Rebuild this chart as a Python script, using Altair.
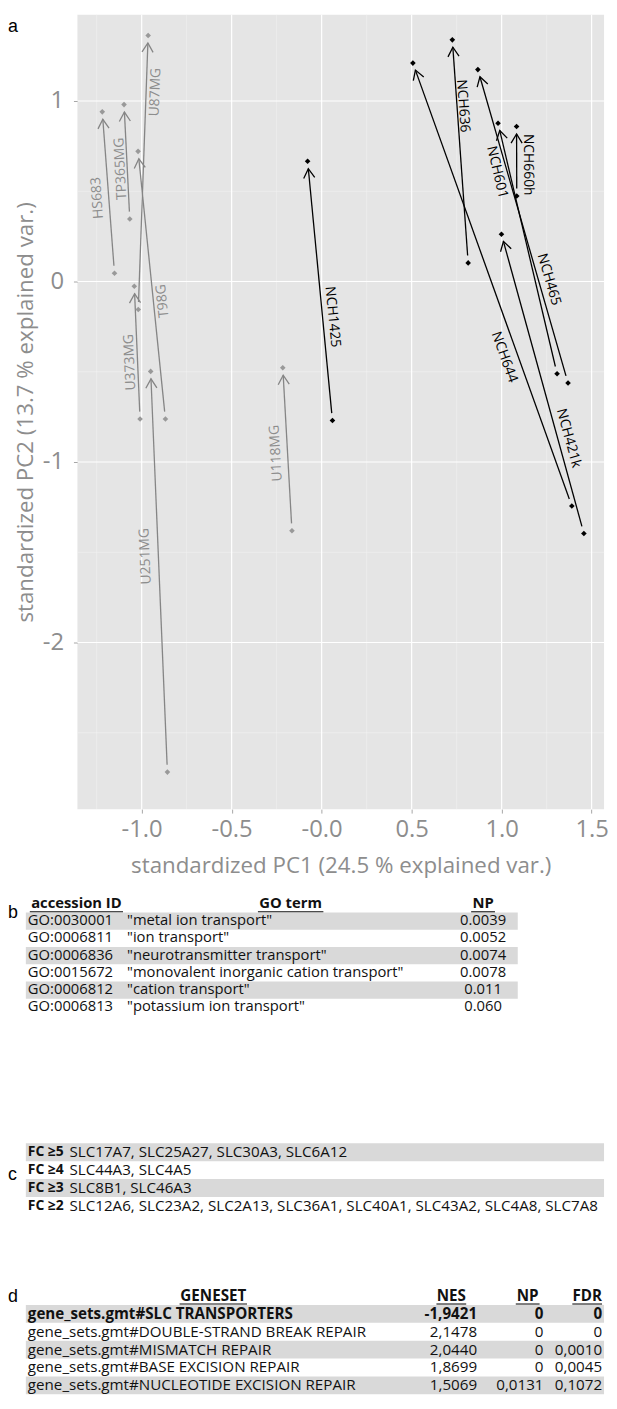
import math
import altair as alt
import pandas as pd

# ---------------- panel a : PCA biplot arrows ----------------
names = ["HS683", "TP365MG", "U87MG", "U373MG", "T98G", "U251MG", "U118MG",
         "NCH1425", "NCH636", "NCH644", "NCH421k", "NCH601", "NCH465", "NCH660h"]
group = ["gray"] * 7 + ["black"] * 7
x_start = [-1.151, -1.066, -1.019, -1.009, -0.868, -0.857, -0.165,
           0.060, 0.814, 1.390, 1.457, 1.308, 1.369, 1.084]
y_start = [0.046, 0.346, -0.155, -0.762, -0.762, -2.718, -1.381,
           -0.770, 0.103, -1.244, -1.396, -0.511, -0.562, 0.474]
x_end = [-1.219, -1.098, -0.964, -1.041, -1.020, -0.950, -0.216,
         -0.078, 0.726, 0.507, 0.999, 0.980, 0.868, 1.083]
y_end = [0.940, 0.980, 1.363, -0.026, 0.721, -0.498, -0.478,
         0.666, 1.339, 1.210, 0.262, 0.877, 1.174, 0.859]
lab_x = [-1.245, -1.116, -0.923, -1.064, -0.883, -0.978, -0.253,
         0.060, 0.785, 1.014, 1.372, 0.974, 1.262, 1.147]
lab_y = [0.463, 0.625, 1.049, -0.447, -0.108, -1.522, -0.951,
         -0.196, 0.973, -0.419, -0.868, 0.606, 0.011, 0.647]

x_major = [-1.0, -0.5, 0.0, 0.5, 1.0, 1.5]
x_minor = [-1.25, -0.75, -0.25, 0.25, 0.75, 1.25]
y_major = [-2, -1, 0, 1]
y_minor = [-2.5, -1.5, -0.5, 0.5]

# ---------------- panel b : GO terms ----------------
b_head = ["accession ID", "GO term", "NP"]
b_ids = ["GO:0030001", "GO:0006811", "GO:0006836", "GO:0015672", "GO:0006812", "GO:0006813"]
b_terms = ['"metal ion transport"', '"ion transport"', '"neurotransmitter transport"',
           '"monovalent inorganic cation transport"', '"cation transport"',
           '"potassium ion transport"']
b_np = ["0.0039", "0.0052", "0.0074", "0.0078", "0.011", "0.060"]

# ---------------- panel c : fold changes ----------------
c_tiers = ["FC \u22655", "FC \u22654", "FC \u22653", "FC \u22652"]
c_genes = ["SLC17A7, SLC25A27, SLC30A3, SLC6A12",
           "SLC44A3, SLC4A5",
           "SLC8B1, SLC46A3",
           "SLC12A6, SLC23A2, SLC2A13, SLC36A1, SLC40A1, SLC43A2, SLC4A8, SLC7A8"]

# ---------------- panel d : GSEA ----------------
d_head = ["GENESET", "NES", "NP", "FDR"]
d_sets = ["gene_sets.gmt#SLC TRANSPORTERS", "gene_sets.gmt#DOUBLE-STRAND BREAK REPAIR",
          "gene_sets.gmt#MISMATCH REPAIR", "gene_sets.gmt#BASE EXCISION REPAIR",
          "gene_sets.gmt#NUCLEOTIDE EXCISION REPAIR"]
d_nes = ["-1,9421", "2,1478", "2,0440", "1,8699", "1,5069"]
d_np = ["0", "0", "0", "0", "0,0131"]
d_fdr = ["0", "0", "0,0010", "0,0045", "0,1072"]

# ---------------- layout ----------------
W, H = 531, 801
XMIN, XMAX = -1.357, 1.569
YMIN, YMAX = -2.923, 1.478
KX = W / (XMAX - XMIN)
KY = H / (YMAX - YMIN)
GAP = 7.5
FONT = "Open Sans"
GRAYTXT = "#8d8d8d"

recs = []
for n, g, xs, ys, xe, ye, lx, ly in zip(names, group, x_start, y_start, x_end, y_end, lab_x, lab_y):
    dxp = (xe - xs) * KX
    dyp = -(ye - ys) * KY
    L = math.hypot(dxp, dyp)
    ux, uy = dxp / L, dyp / L
    th = math.degrees(math.atan2(dyp, dxp))
    recs.append(dict(name=n, grp=g,
                     x1=xs + GAP * ux / KX, y1=ys - GAP * uy / KY,
                     x2=xe - GAP * ux / KX, y2=ye + GAP * uy / KY,
                     head=(th + 90) % 360, lx=lx, ly=ly,
                     lang=(th % 360) if g == "gray" else ((th + 180) % 360)))
arr = pd.DataFrame(recs)
pts = pd.DataFrame({"x": x_start + x_end, "y": y_start + y_end, "grp": group + group})


def XS():
    return alt.Scale(domain=[XMIN, XMAX], nice=False, zero=False)


def YS():
    return alt.Scale(domain=[YMIN, YMAX], nice=False, zero=False)


def cscale(gray, black):
    return alt.Scale(domain=["gray", "black"], range=[gray, black])


one = pd.DataFrame({"k": [0]})

layers = []
# grid
layers.append(alt.Chart(pd.DataFrame({"v": x_minor})).mark_rule(color="#f1f1f1", strokeWidth=0.6)
              .encode(x=alt.X("v:Q", scale=XS(), axis=None)))
layers.append(alt.Chart(pd.DataFrame({"v": y_minor})).mark_rule(color="#f1f1f1", strokeWidth=0.6)
              .encode(y=alt.Y("v:Q", scale=YS(), axis=None)))
layers.append(alt.Chart(pd.DataFrame({"v": x_major})).mark_rule(color="#ffffff", strokeWidth=1.2)
              .encode(x=alt.X("v:Q", scale=XS(), axis=None)))
layers.append(alt.Chart(pd.DataFrame({"v": y_major})).mark_rule(color="#ffffff", strokeWidth=1.2)
              .encode(y=alt.Y("v:Q", scale=YS(), axis=None)))

# arrows
layers.append(alt.Chart(arr).mark_rule(strokeWidth=1.3).encode(
    x=alt.X("x1:Q", scale=XS(), axis=None), y=alt.Y("y1:Q", scale=YS(), axis=None),
    x2="x2:Q", y2="y2:Q",
    color=alt.Color("grp:N", scale=cscale("#858585", "#000000"), legend=None)))
layers.append(alt.Chart(arr).mark_point(shape="M-0.6,1L0,0L0.6,1", filled=False, size=346,
                                        strokeWidth=1.3, opacity=1).encode(
    x=alt.X("x2:Q", scale=XS(), axis=None), y=alt.Y("y2:Q", scale=YS(), axis=None),
    angle=alt.Angle("head:Q", scale=None),
    color=alt.Color("grp:N", scale=cscale("#858585", "#000000"), legend=None)))

# points (carry the axes)
xaxis = alt.Axis(values=x_major, grid=False, domain=False, tickColor="#a6a6a6", tickSize=4,
                 labelExpr="datum.value == 0 ? '-0.0' : (datum.value < 0 ? '-' + format(-datum.value, '.1f') : format(datum.value, '.1f'))",
                 labelFont=FONT, labelFontSize=24, labelColor=GRAYTXT, labelPadding=5,
                 title="standardized PC1 (24.5 % explained var.)", titleFont=FONT,
                 titleFontSize=22.5, titleFontWeight="normal", titleColor=GRAYTXT, titlePadding=13)
yaxis = alt.Axis(values=y_major, grid=False, domain=False, tickColor="#a6a6a6", tickSize=4,
                 labelExpr="datum.value < 0 ? '-' + format(-datum.value, 'd') : format(datum.value, 'd')",
                 labelFont=FONT, labelFontSize=24, labelColor=GRAYTXT, labelPadding=10,
                 title="standardized PC2 (13.7 % explained var.)", titleFont=FONT,
                 titleFontSize=22.5, titleFontWeight="normal", titleColor=GRAYTXT, titlePadding=5)
layers.append(alt.Chart(pts).mark_point(shape="diamond", filled=True, size=32, opacity=1).encode(
    x=alt.X("x:Q", scale=XS(), axis=xaxis), y=alt.Y("y:Q", scale=YS(), axis=yaxis),
    color=alt.Color("grp:N", scale=cscale("#999999", "#000000"), legend=None)))

# arrow labels
layers.append(alt.Chart(arr).mark_text(font=FONT, fontSize=14, align="center", baseline="middle").encode(
    x=alt.X("lx:Q", scale=XS(), axis=None), y=alt.Y("ly:Q", scale=YS(), axis=None),
    text="name:N", angle=alt.Angle("lang:Q", scale=None),
    color=alt.Color("grp:N", scale=cscale(GRAYTXT, "#000000"), legend=None)))

# panel letters
for letter, py in [("a", 17), ("b", 911), ("c", 1175), ("d", 1298)]:
    layers.append(alt.Chart(one).mark_text(text=letter, font="Liberation Sans", fontSize=18,
                                           align="left", baseline="alphabetic", color="#000000")
                  .encode(x=alt.value(-70), y=alt.value(py)))

BAND = "#d9d9d9"


def tscale(dom, rng):
    return alt.Scale(domain=dom, range=rng, nice=False, zero=False)


def band_layer(df, sc, x0, x1):
    return (alt.Chart(df).transform_filter("datum.r % 2 == 1")
            .transform_calculate(lo="datum.r - 0.5", hi="datum.r + 0.5")
            .mark_rect(color=BAND)
            .encode(x=alt.value(x0), x2=alt.value(x1),
                    y=alt.Y("lo:Q", scale=sc, axis=None), y2="hi:Q"))


def text_layer(df, sc, field, x, align, size, bold=False):
    return (alt.Chart(df).mark_text(font=FONT, fontSize=size, align=align, baseline="middle",
                                    color="#111111", fontWeight="bold" if bold else "normal")
            .encode(x=alt.value(x), y=alt.Y("r:Q", scale=sc, axis=None), text=f"{field}:N"))


def underline(x0, x1, y):
    return (alt.Chart(one).mark_rule(color="#111111", strokeWidth=1.1)
            .encode(x=alt.value(x0), x2=alt.value(x1), y=alt.value(y)))


# table b
BFS = 14.9
b_sc = tscale([1, 6], [914, 1001])
b_df = pd.DataFrame({"r": list(range(1, 7)), "id": b_ids, "term": b_terms, "np": b_np})
b_hd = pd.DataFrame({"r": [0], "h1": [b_head[0]], "h2": [b_head[1]], "h3": [b_head[2]]})
layers += [band_layer(b_df, b_sc, -52, 444),
           text_layer(b_df, b_sc, "id", -50, "left", BFS),
           text_layer(b_df, b_sc, "term", 50, "left", BFS),
           text_layer(b_df, b_sc, "np", 409, "center", BFS),
           text_layer(b_hd, b_sc, "h1", -1, "center", BFS, True),
           text_layer(b_hd, b_sc, "h2", 215, "center", BFS, True),
           text_layer(b_hd, b_sc, "h3", 409, "center", BFS, True),
           underline(-48, 46, 904.5), underline(182, 248, 904.5), underline(397, 421, 904.5)]

# table c
CFS = 15.3
c_sc = tscale([1, 4], [1147, 1201])
c_df = pd.DataFrame({"r": list(range(1, 5)), "tier": c_tiers, "genes": c_genes})
layers += [band_layer(c_df, c_sc, -52, 531),
           text_layer(c_df, c_sc, "tier", -50, "left", 14, True),
           text_layer(c_df, c_sc, "genes", -8, "left", CFS)]

# table d
DFS = 15.3
d_sc = tscale([1, 5], [1310, 1382])
d_df = pd.DataFrame({"r": list(range(1, 6)), "set": d_sets, "nes": d_nes, "np": d_np, "fdr": d_fdr})
d_hd = pd.DataFrame({"r": [0], "h1": [d_head[0]], "h2": [d_head[1]], "h3": [d_head[2]], "h4": [d_head[3]]})
d_first = d_df[d_df.r == 1]
d_rest = d_df[d_df.r > 1]
layers += [band_layer(d_df, d_sc, -52, 531)]
for part, bold in [(d_first, True), (d_rest, False)]:
    layers += [text_layer(part, d_sc, "set", -50, "left", DFS, bold),
               text_layer(part, d_sc, "nes", 403, "right", DFS, bold),
               text_layer(part, d_sc, "np", 470, "right", DFS, bold),
               text_layer(part, d_sc, "fdr", 529, "right", DFS, bold)]
layers += [text_layer(d_hd, d_sc, "h1", 137, "center", DFS, True),
           text_layer(d_hd, d_sc, "h2", 377, "center", DFS, True),
           text_layer(d_hd, d_sc, "h3", 454, "center", DFS, True),
           text_layer(d_hd, d_sc, "h4", 514, "center", DFS, True),
           underline(103, 171, 1300), underline(362, 392, 1300),
           underline(442, 466, 1300), underline(499, 529, 1300)]

chart = (alt.layer(*layers)
         .resolve_scale(x="independent", y="independent", color="independent")
         .properties(width=W, height=H, padding=0)
         .configure_view(fill="#e5e5e5", stroke=None))

chart.save("out.html", embed_options={"renderer": "svg", "actions": False})
